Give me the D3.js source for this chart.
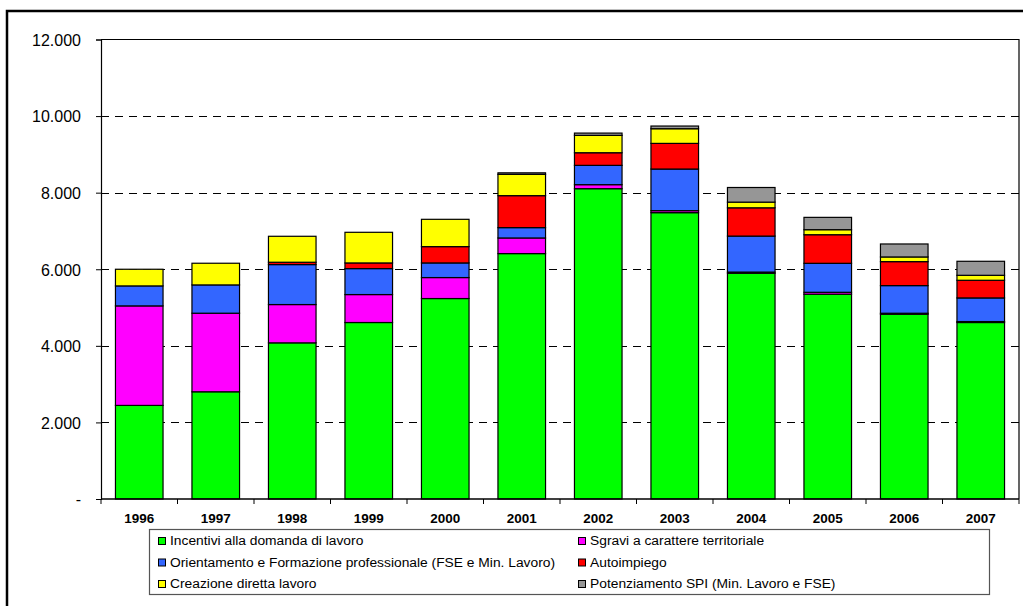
<!DOCTYPE html>
<html>
<head>
<meta charset="utf-8">
<script src="https://cdn.jsdelivr.net/npm/d3@7"></script>
<style>
  html, body { margin: 0; padding: 0; background: #fff; }
  svg { display: block; }
  text { font-family: "Liberation Sans", Arial, sans-serif; }
</style>
</head>
<body>
<svg id="chart" width="1023" height="606"></svg>
<script>
// ---- Data ----
const years = ["1996","1997","1998","1999","2000","2001","2002","2003","2004","2005","2006","2007"];
const incentivi     = [2444, 2800, 4078, 4609, 5235, 6409, 8104, 7478, 5896, 5348, 4826, 4609];
const sgravi        = [2599, 2052, 1000,  730,  548,  408,  105,   52,   30,   50,   25,   25];
const orientamento  = [ 522,  739, 1044,  678,  382,  270,  504, 1087,  940,  757,  722,  617];
const autoimpiego   = [   0,    0,   61,  148,  426,  835,  330,  670,  739,  747,  626,  461];
const creazione     = [ 435,  566,  678,  800,  713,  556,  453,  383,  148,  131,  122,  130];
const potenziamento = [   0,    0,    0,    0,    0,   40,   60,   70,  382,  322,  339,  366];

const seriesNames = [
  "Incentivi alla domanda di lavoro",
  "Sgravi a carattere territoriale",
  "Orientamento e Formazione professionale (FSE e Min. Lavoro)",
  "Autoimpiego",
  "Creazione diretta lavoro",
  "Potenziamento SPI (Min. Lavoro e FSE)"
];
const seriesValues = [incentivi, sgravi, orientamento, autoimpiego, creazione, potenziamento];
const seriesColors = ["#00FF00", "#FF00FF", "#3366FF", "#FF0000", "#FFFF00", "#969696"];
const yTicks = [0, 2000, 4000, 6000, 8000, 10000, 12000];
// legend layout order: [col1, col2] per row
const legendOrder = [[0, 1], [2, 3], [4, 5]];

// ---- Build table ----
const keys = seriesNames;
const table = years.map((y, i) => {
  const row = { year: y };
  keys.forEach((k, s) => row[k] = seriesValues[s][i]);
  return row;
});
const stacked = d3.stack().keys(keys)(table);

const svg = d3.select("#chart");
const plot = { left: 101, right: 1019, top: 39.5, bottom: 499 };

const x = d3.scaleBand().domain(years).range([plot.left, plot.right])
  .paddingInner(0.378).paddingOuter(0.189);
const y = d3.scaleLinear().domain([0, 12000]).range([plot.bottom, plot.top]);

// outer frame
svg.append("rect").attr("x", 7).attr("y", 11).attr("width", 1030).attr("height", 620)
  .attr("fill", "none").attr("stroke", "#000").attr("stroke-width", 2.5);

// gridlines
svg.append("g").selectAll("line").data(yTicks.filter(d => d > 0 && d < 12000)).join("line")
  .attr("x1", plot.left).attr("x2", plot.right)
  .attr("y1", d => Math.round(y(d)) + 0.5).attr("y2", d => Math.round(y(d)) + 0.5)
  .attr("stroke", "#000").attr("stroke-width", 1).attr("stroke-dasharray", "8,6");

// plot box (top & right)
svg.append("path")
  .attr("d", `M${plot.left},${plot.top}H${plot.right}V${plot.bottom}`)
  .attr("fill", "none").attr("stroke", "#000").attr("stroke-width", 1.2);

// bars
const layers = svg.append("g").selectAll("g").data(stacked).join("g")
  .attr("fill", (d, i) => seriesColors[i]);
layers.selectAll("rect").data(d => d.filter(v => v[1] - v[0] > 0)).join("rect")
  .attr("x", d => x(d.data.year))
  .attr("width", x.bandwidth())
  .attr("y", d => y(d[1]))
  .attr("height", d => y(d[0]) - y(d[1]))
  .attr("stroke", "#000").attr("stroke-width", 1.2);

// y axis
const fmt = d3.formatLocale({ decimal: ",", thousands: ".", grouping: [3], currency: ["", ""] }).format(",");
const yAxis = d3.axisLeft(y).tickValues(yTicks).tickSize(5).tickPadding(15)
  .tickFormat(d => d === 0 ? "-" : fmt(d));
const gy = svg.append("g").attr("transform", `translate(${plot.left},0)`).call(yAxis);
gy.select(".domain").attr("stroke", "#000").attr("stroke-width", 1.2);
gy.selectAll(".tick line").attr("stroke", "#000");
gy.selectAll(".tick text").attr("font-size", 16).attr("fill", "#000")
  .attr("font-family", "Liberation Sans, Arial, sans-serif").attr("dy", "0.36em");

// x axis
const gx = svg.append("g").attr("transform", `translate(0,${plot.bottom})`);
gx.append("line").attr("x1", plot.left).attr("x2", plot.right).attr("y1", 0).attr("y2", 0)
  .attr("stroke", "#000").attr("stroke-width", 1.5);
const bounds = d3.range(years.length + 1).map(i => plot.left + i * x.step());
gx.selectAll("line.tk").data(bounds).join("line").attr("class", "tk")
  .attr("x1", d => d).attr("x2", d => d).attr("y1", 0).attr("y2", 5)
  .attr("stroke", "#000").attr("stroke-width", 1);
const xl = gx.selectAll("text").data(years).join("text")
  .attr("x", d => x(d) + x.bandwidth() / 2).attr("y", 24)
  .attr("text-anchor", "middle").attr("font-size", 12).attr("font-weight", "bold")
  .text(d => d);
xl.each(function () {
  const w = this.getComputedTextLength();
  d3.select(this).attr("textLength", w * 1.12).attr("lengthAdjust", "spacingAndGlyphs");
});

// legend
const lg = svg.append("g");
lg.append("rect").attr("x", 149.5).attr("y", 529.5).attr("width", 840).attr("height", 65)
  .attr("fill", "#fff").attr("stroke", "#555").attr("stroke-width", 1.2);
const colX = [158.5, 578.5];
const rowY = [541, 562.5, 584];
legendOrder.forEach((row, r) => {
  row.forEach((s, c) => {
    lg.append("rect").attr("x", colX[c]).attr("y", rowY[r] - 3.5).attr("width", 7).attr("height", 7)
      .attr("fill", seriesColors[s]).attr("stroke", "#000").attr("stroke-width", 1);
    const t = lg.append("text").attr("x", colX[c] + 11.5).attr("y", rowY[r] + 4.3)
      .attr("font-size", 12).attr("fill", "#000").text(seriesNames[s]);
    const w = t.node().getComputedTextLength();
    t.attr("textLength", w * 1.15).attr("lengthAdjust", "spacingAndGlyphs");
  });
});
</script>
</body>
</html>
